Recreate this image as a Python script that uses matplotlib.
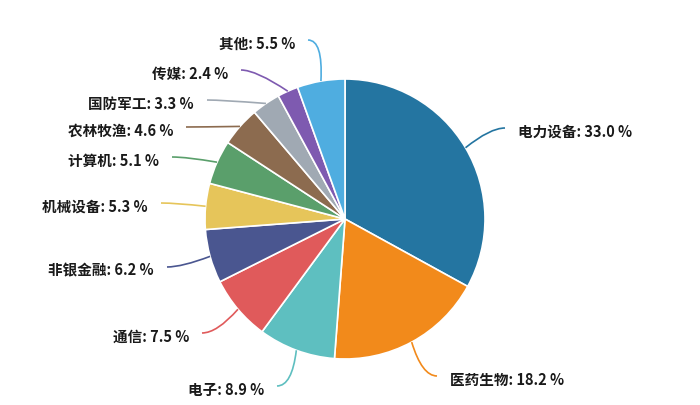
import numpy as np
import matplotlib
matplotlib.use("Agg")
import matplotlib.pyplot as plt
from matplotlib.path import Path
from matplotlib.patches import PathPatch

plt.rcParams['font.family'] = ['Noto Sans CJK SC', 'DejaVu Sans']

categories = ['电力设备', '医药生物', '电子', '通信', '非银金融', '机械设备',
              '计算机', '农林牧渔', '国防军工', '传媒', '其他']
values = [33.0, 18.2, 8.9, 7.5, 6.2, 5.3, 5.1, 4.6, 3.3, 2.4, 5.5]
colors = ['#2475a1', '#f28a1b', '#5ebfc0', '#e05a5b', '#4a5690', '#e6c55a',
          '#5a9f6b', '#8c6b4f', '#a0a9b3', '#7e5ab0', '#4fade0']

# layout: label line end points (image pixel coords, y down)
label_ends = [(505, 129), (437, 377), (277, 387), (202, 334), (167, 268),
              (161, 204), (172, 158), (186, 128), (207, 101), (241, 71),
              (308, 41)]

W, H = 700, 406
fig = plt.figure(figsize=(W / 100, H / 100), dpi=100)
ax = fig.add_axes([0, 0, 1, 1])
ax.set_xlim(0, W)
ax.set_ylim(0, H)
ax.set_aspect('equal')
ax.axis('off')

cx, cy, R = 345, H - 220, 140
wedges, _ = ax.pie(values, colors=colors, startangle=90, counterclock=False,
                   center=(cx, cy), radius=R, frame=True,
                   wedgeprops=dict(edgecolor='white', linewidth=1.2))
ax.set_xlim(0, W)
ax.set_ylim(0, H)
ax.axis('off')

for w, cat, val, col, (ex, ey) in zip(wedges, categories, values, colors, label_ends):
    ang = np.deg2rad((w.theta1 + w.theta2) / 2)
    p0 = (cx + R * np.cos(ang), cy + R * np.sin(ang))
    end = (ex, H - ey)
    right = ex > cx
    ctrl = (end[0] - 15 if right else end[0] + 15, end[1])
    path = Path([p0, ctrl, end], [Path.MOVETO, Path.CURVE3, Path.CURVE3])
    ax.add_patch(PathPatch(path, facecolor='none', edgecolor=col, lw=1.2))
    tx = end[0] + 13 if right else end[0] - 13
    ax.text(tx, end[1] - 2.5, f'{cat}: {val:.1f} %', ha='left' if right else 'right',
            va='center', fontsize=10.5, fontweight='bold', color='#1a1a1a')

fig.savefig('out.png', dpi=100)
